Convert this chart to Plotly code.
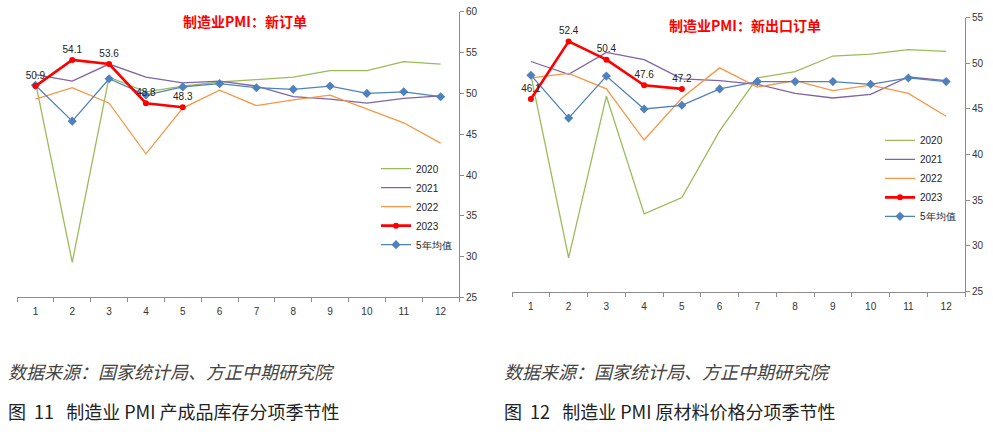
import plotly.graph_objects as go

months = [str(i) for i in range(1, 13)]

# Left chart: 制造业PMI：新订单
no_2020 = [51.4, 29.3, 52.0, 50.2, 50.9, 51.4, 51.7, 52.0, 52.8, 52.8, 53.9, 53.6]
no_2021 = [52.3, 51.5, 53.6, 52.0, 51.3, 51.5, 50.9, 49.6, 49.3, 48.8, 49.4, 49.7]
no_2022 = [49.3, 50.7, 48.8, 42.6, 48.2, 50.4, 48.5, 49.2, 49.8, 48.1, 46.4, 43.9]
no_2023 = [50.9, 54.1, 53.6, 48.8, 48.3]
no_avg5 = [51.0, 46.6, 51.8, 49.8, 50.8, 51.2, 50.7, 50.5, 50.9, 50.0, 50.2, 49.6]

# Right chart: 制造业PMI：新出口订单
ex_2020 = [48.7, 28.7, 46.4, 33.5, 35.3, 42.6, 48.4, 49.1, 50.8, 51.0, 51.5, 51.3]
ex_2021 = [50.2, 48.8, 51.2, 50.4, 48.3, 48.1, 47.7, 46.7, 46.2, 46.6, 48.5, 48.1]
ex_2022 = [48.4, 48.9, 47.2, 41.6, 46.2, 49.5, 47.4, 48.1, 47.0, 47.6, 46.7, 44.2]
ex_2023 = [46.1, 52.4, 50.4, 47.6, 47.2]
ex_avg5 = [48.7, 44.0, 48.6, 45.0, 45.4, 47.2, 48.0, 48.0, 48.0, 47.7, 48.4, 48.0]

C2020 = "#9BBB59"
C2021 = "#8064A2"
C2022 = "#F79646"
C2023 = "#FF0000"
CAVG = "#4F81BD"

fig = go.Figure()

def add_set(xa, ya, leg, d20, d21, d22, d23, davg):
    fig.add_trace(go.Scatter(x=months, y=d20, name="2020", mode="lines", legendrank=1,
                             line=dict(color=C2020, width=1.3), xaxis=xa, yaxis=ya, legend=leg))
    fig.add_trace(go.Scatter(x=months, y=d21, name="2021", mode="lines", legendrank=2,
                             line=dict(color=C2021, width=1.3), xaxis=xa, yaxis=ya, legend=leg))
    fig.add_trace(go.Scatter(x=months, y=d22, name="2022", mode="lines", legendrank=3,
                             line=dict(color=C2022, width=1.3), xaxis=xa, yaxis=ya, legend=leg))
    fig.add_trace(go.Scatter(x=months, y=davg, name="5年均值", mode="lines+markers",
                             line=dict(color=CAVG, width=1.3),
                             marker=dict(symbol="diamond", size=7, color=CAVG),
                             xaxis=xa, yaxis=ya, legend=leg, legendrank=5))
    fig.add_trace(go.Scatter(x=months[:len(d23)], y=d23, name="2023", mode="lines+markers+text",
                             line=dict(color=C2023, width=2.6),
                             marker=dict(symbol="circle", size=6, color=C2023),
                             text=[f"{v:.1f}" for v in d23], textposition="top center",
                             textfont=dict(size=10, color="#222222", family="Liberation Sans"),
                             xaxis=xa, yaxis=ya, legend=leg, legendrank=4))

add_set("x", "y", "legend", no_2020, no_2021, no_2022, no_2023, no_avg5)
add_set("x2", "y2", "legend2", ex_2020, ex_2021, ex_2022, ex_2023, ex_avg5)

W, H = 993, 435
axis_common = dict(showgrid=False, zeroline=False, showline=True, linecolor="#8C8C8C",
                   linewidth=1, tickfont=dict(size=10, color="#333333", family="Liberation Sans"))

xcommon = dict(axis_common, type="category", ticks="outside", tickson="boundaries",
               ticklen=4, tickcolor="#8C8C8C", range=[-0.5, 11.5], ticklabelstandoff=5)
ycommon = dict(axis_common, side="right", ticks="outside", ticklen=4, tickcolor="#8C8C8C",
               dtick=5)

legend_common = dict(font=dict(size=10, color="#222222", family="Liberation Sans"),
                     bgcolor="rgba(0,0,0,0)", itemwidth=30, tracegroupgap=0,
                     xanchor="left", yanchor="top", traceorder="normal")

fig.update_layout(
    width=W, height=H, margin=dict(l=0, r=0, t=0, b=0),
    paper_bgcolor="white", plot_bgcolor="white",
    xaxis=dict(xcommon, domain=[17 / W, 459 / W], anchor="y"),
    yaxis=dict(ycommon, domain=[1 - 300 / H, 1 - 7 / H], range=[25, 60], anchor="x"),
    xaxis2=dict(xcommon, domain=[512 / W, 965 / W], anchor="y2"),
    yaxis2=dict(ycommon, domain=[1 - 294 / H, 1 - 13 / H], range=[25, 55], anchor="x2"),
    legend=dict(legend_common, x=376 / W, y=1 - 153 / H),
    legend2=dict(legend_common, x=880 / W, y=1 - 124 / H),
    showlegend=True,
)

title_font = dict(family="Noto Sans CJK SC", size=14, color="#FF0000", weight="bold")
fig.add_annotation(text="制造业PMI：新订单", x=245 / W, y=1 - 16 / H, xref="paper", yref="paper",
                   showarrow=False, font=title_font, xanchor="center", yanchor="middle")
fig.add_annotation(text="制造业PMI：新出口订单", x=745 / W, y=1 - 21 / H, xref="paper", yref="paper",
                   showarrow=False, font=title_font, xanchor="center", yanchor="middle")

src_font = dict(family="Noto Sans CJK SC", size=18, color="#444444", style="italic")
cap_font = dict(family="Noto Sans CJK SC", size=18, color="#222222")
for x0, cap in [(6, "图  11   制造业 PMI 产成品库存分项季节性"), (502, "图  12   制造业 PMI 原材料价格分项季节性")]:
    fig.add_annotation(text="数据来源：国家统计局、方正中期研究院", x=x0 / W, y=1 - 375 / H,
                       xref="paper", yref="paper", showarrow=False, font=src_font,
                       xanchor="left", yanchor="middle")
    fig.add_annotation(text=cap, x=x0 / W, y=1 - 417 / H, xref="paper", yref="paper",
                       showarrow=False, font=cap_font, xanchor="left", yanchor="middle")

fig.write_html("out.html", config={"displayModeBar": False},
               post_script="document.body.style.margin='0';")
